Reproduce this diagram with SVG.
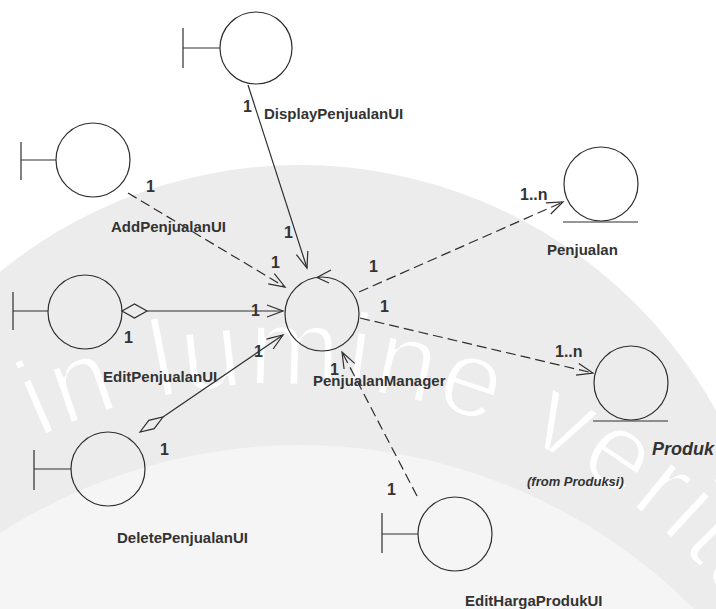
<svg xmlns="http://www.w3.org/2000/svg" width="716" height="609" viewBox="0 0 716 609">
  <style>
    .shape { fill: none; stroke: #2e2e2e; stroke-width: 1.2; }
    .link { fill: none; stroke: #2e2e2e; stroke-width: 1.2; }
    .dash { stroke-dasharray: 10 5; }
    .name { font-family: "Liberation Sans", Arial, sans-serif; font-weight: bold; font-size: 15px; fill: #333; }
    .mult { font-family: "Liberation Sans", Arial, sans-serif; font-weight: bold; font-size: 16px; fill: #333; }
    .mark { font-family: "Liberation Sans", Arial, sans-serif; font-size: 110px; letter-spacing: 3px; fill: #ffffff; stroke: #ececec; stroke-width: 3px; }
  </style>
  <defs>
    <marker id="open" markerUnits="userSpaceOnUse" viewBox="-18 -8 20 16" refX="0" refY="0" markerWidth="20" markerHeight="16" orient="auto">
      <path d="M-16,-6 L0,0 L-16,6" fill="none" stroke="#2e2e2e" stroke-width="1.2"/>
    </marker>
    <path id="mottoArc" d="M-7.5,462 A575,575 0 0 1 846,860"/>
  </defs>

  <!-- background seal -->
  <rect width="716" height="609" fill="#ffffff"/>
  <circle cx="300" cy="640" r="475" fill="#ececec"/>
  <circle cx="300" cy="1000" r="555" fill="#f5f5f5"/>
  <text class="mark"><textPath href="#mottoArc" startOffset="52">in lumine veritas</textPath></text>

  <!-- connectors -->
  <g id="connectors">
    <path class="link" d="M248,85 L307,268" marker-end="url(#open)"/>
    <path class="link dash" d="M128,193 L285,287" marker-end="url(#open)"/>
    <polygon class="shape" points="122,311 134.5,304 147,311 134.5,318" fill="#fff"/>
    <path class="link" d="M147,311 L283,311" marker-end="url(#open)"/>
    <polygon class="shape" points="140,432 148.8,420.3 163,417 154.2,428.7"/>
    <path class="link" d="M163,417 L283,335" marker-end="url(#open)"/>
    <path class="link dash" d="M417,496 L342,352" marker-end="url(#open)"/>
    <path class="link dash" d="M359,292 L563,202" marker-end="url(#open)"/>
    <path class="link dash" d="M360,318 L593,373" marker-end="url(#open)"/>

    <text class="mult" x="243" y="112">1</text>
    <text class="mult" x="284" y="238">1</text>
    <text class="mult" x="146" y="192">1</text>
    <text class="mult" x="271" y="268">1</text>
    <text class="mult" x="124" y="343">1</text>
    <text class="mult" x="251" y="316">1</text>
    <text class="mult" x="160" y="455">1</text>
    <text class="mult" x="254" y="357">1</text>
    <text class="mult" x="387" y="495">1</text>
    <text class="mult" x="330" y="375">1</text>
    <text class="mult" x="369" y="272">1</text>
    <text class="mult" x="520" y="200">1..n</text>
    <text class="mult" x="380" y="312">1</text>
    <text class="mult" x="555" y="357">1..n</text>
  </g>

  <!-- boundary objects -->
  <g id="DisplayPenjualanUI">
    <line class="shape" x1="183" y1="28" x2="183" y2="68"/>
    <line class="shape" x1="183" y1="48" x2="220" y2="48"/>
    <circle class="shape" cx="256" cy="48" r="36"/>
    <text class="name" x="264" y="119">DisplayPenjualanUI</text>
  </g>
  <g id="AddPenjualanUI">
    <line class="shape" x1="21" y1="142" x2="21" y2="180"/>
    <line class="shape" x1="21" y1="160" x2="56" y2="160"/>
    <circle class="shape" cx="93" cy="160" r="37"/>
    <text class="name" x="111" y="232">AddPenjualanUI</text>
  </g>
  <g id="EditPenjualanUI">
    <line class="shape" x1="13" y1="292" x2="13" y2="330"/>
    <line class="shape" x1="13" y1="311" x2="48" y2="311"/>
    <circle class="shape" cx="85" cy="312" r="37"/>
    <text class="name" x="103" y="382">EditPenjualanUI</text>
  </g>
  <g id="DeletePenjualanUI">
    <line class="shape" x1="34" y1="450" x2="34" y2="490"/>
    <line class="shape" x1="34" y1="469" x2="71" y2="469"/>
    <circle class="shape" cx="108" cy="469" r="37"/>
    <text class="name" x="117" y="543">DeletePenjualanUI</text>
  </g>
  <g id="EditHargaProdukUI">
    <line class="shape" x1="382" y1="513" x2="382" y2="553"/>
    <line class="shape" x1="382" y1="534" x2="418" y2="534"/>
    <circle class="shape" cx="455" cy="534" r="37"/>
    <text class="name" x="465" y="606">EditHargaProdukUI</text>
  </g>

  <!-- control object -->
  <g id="PenjualanManager">
    <circle class="shape" cx="322" cy="314" r="37"/>
    <path class="shape" d="M331,270 L317,277.5 L329,283"/>
    <text class="name" x="313" y="386">PenjualanManager</text>
  </g>

  <!-- entity objects -->
  <g id="Penjualan">
    <circle class="shape" cx="601" cy="184" r="37"/>
    <line class="shape" x1="563" y1="222" x2="638" y2="222"/>
    <text class="name" x="547" y="255">Penjualan</text>
  </g>
  <g id="Produk">
    <circle class="shape" cx="631" cy="383" r="37"/>
    <line class="shape" x1="593" y1="421" x2="668" y2="421"/>
    <text class="name" x="652" y="455" style="font-size:18px;font-style:italic">Produk</text>
    <text class="name" x="527" y="486" style="font-size:13px;font-style:italic">(from Produksi)</text>
  </g>
</svg>
